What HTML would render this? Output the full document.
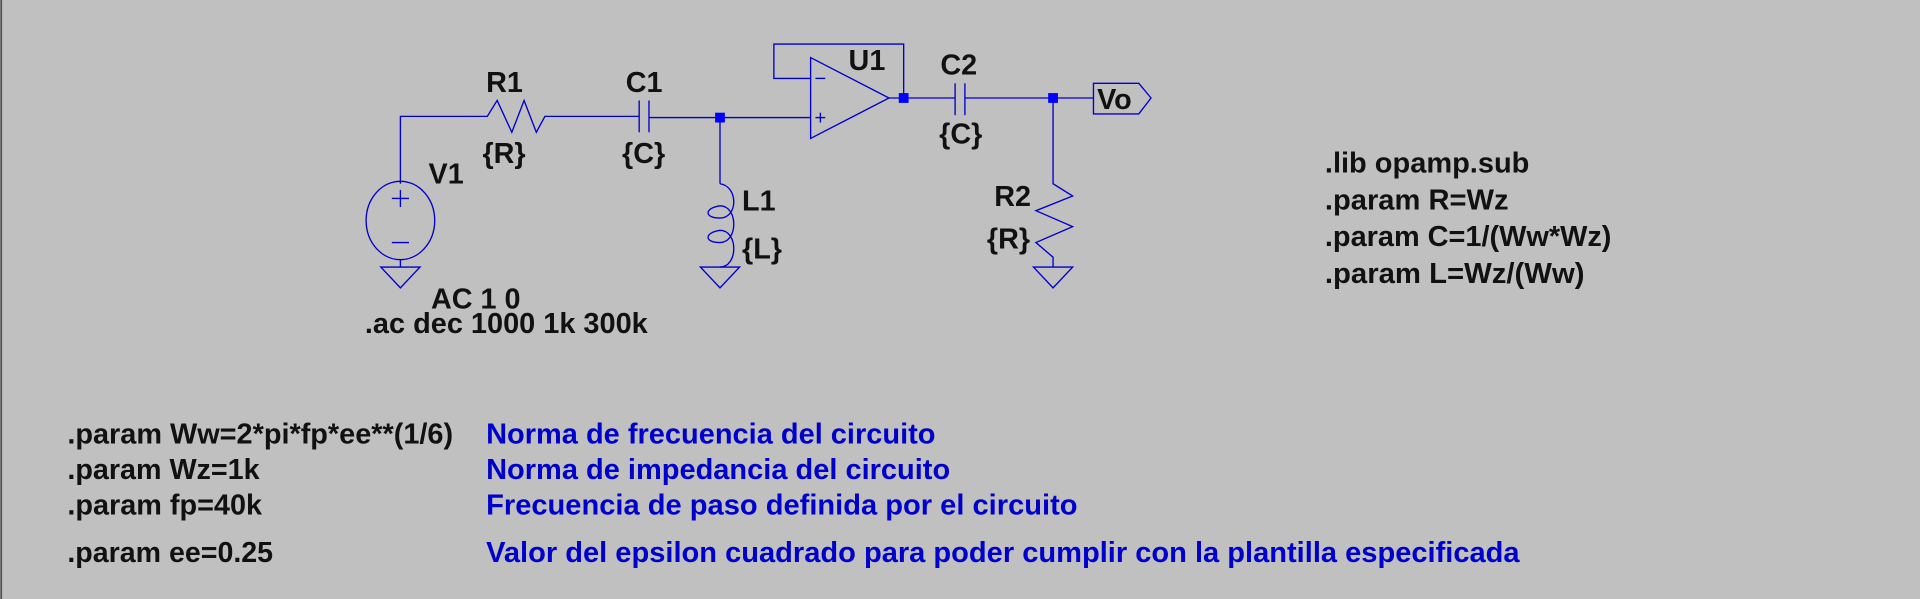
<!DOCTYPE html>
<html><head><meta charset="utf-8"><style>
html,body{margin:0;padding:0;background:#c0c0c0;width:1920px;height:599px;overflow:hidden}
svg{display:block}
text{font-family:"Liberation Sans",Arial,sans-serif;font-weight:bold;fill:#111}
.b{fill:#0000cc}
</style></head><body>
<svg width="1920" height="599" viewBox="0 0 1568 489" preserveAspectRatio="none">
<rect x="0" y="0" width="1568" height="489" fill="#c0c0c0"/>
<line x1="1" y1="0" x2="1" y2="489" stroke="#555" stroke-width="1.5"/>
<g stroke="#0000cc" stroke-width="1.1" fill="none">
<polyline points="327,150 327,95 383,95"/>
<ellipse cx="327" cy="180" rx="28" ry="32"/>
<line x1="320" y1="162" x2="334" y2="162"/><line x1="327" y1="155" x2="327" y2="169"/>
<line x1="320" y1="198" x2="334" y2="198"/>
<line x1="327" y1="212" x2="327" y2="218"/>
<polygon points="311,218 343,218 327,235"/>
<polyline points="383,95 398,95 406,82 418,108 428,82 438,108 445,95 522,95"/>
<line x1="522" y1="82" x2="522" y2="108"/><line x1="530" y1="82" x2="530" y2="108"/>
<line x1="530" y1="96" x2="662" y2="96"/>
<polyline points="588,96 588,150"/>
<path d="M588,150 C603,152 603,178 588,178 C575,178 575,170 588,168 C603,168 603,198 588,198 C575,198 575,190 588,188 C603,188 603,218 588,218"/>
<polygon points="572,218 604,218 588,235"/>
<polygon points="662,47 662,113 726,80"/>
<line x1="666" y1="64" x2="674" y2="64"/>
<line x1="666" y1="96" x2="674" y2="96"/><line x1="670" y1="92" x2="670" y2="100"/>
<polyline points="662,64 632,64 632,36 738,36 738,80"/>
<line x1="726" y1="80" x2="780" y2="80"/>
<line x1="780" y1="68" x2="780" y2="94"/><line x1="788" y1="68" x2="788" y2="94"/>
<line x1="788" y1="80" x2="893" y2="80"/>
<polyline points="860,80 860,150 876,160 846,172 876,185 846,198 860,210 860,218"/>
<polygon points="844,218 876,218 860,235"/>
<polygon points="893,68 930,68 940,80 930,93 893,93"/>
</g>
<g fill="#0000ff">
<rect x="584" y="92" width="8" height="8"/>
<rect x="734" y="76" width="8" height="8"/>
<rect x="856" y="76" width="8" height="8"/>
</g>
<g font-size="23.5">
<text x="397" y="75">R1</text>
<text x="394" y="133">{R}</text>
<text x="511" y="75">C1</text>
<text x="508" y="133">{C}</text>
<text x="693" y="57">U1</text>
<text x="768" y="61">C2</text>
<text x="767" y="117">{C}</text>
<text x="350" y="150">V1</text>
<text x="606" y="172">L1</text>
<text x="606" y="211">{L}</text>
<text x="812" y="168">R2</text>
<text x="806" y="203">{R}</text>
<text x="896" y="89">Vo</text>
<text x="352" y="252">AC 1 0</text>
<text x="298" y="272" textLength="231" lengthAdjust="spacingAndGlyphs">.ac dec 1000 1k 300k</text>
<text x="1082" y="141" textLength="167" lengthAdjust="spacingAndGlyphs">.lib opamp.sub</text>
<text x="1082" y="171" textLength="150" lengthAdjust="spacingAndGlyphs">.param R=Wz</text>
<text x="1082" y="201" textLength="234" lengthAdjust="spacingAndGlyphs">.param C=1/(Ww*Wz)</text>
<text x="1082" y="231" textLength="212" lengthAdjust="spacingAndGlyphs">.param L=Wz/(Ww)</text>
<text x="55" y="362" textLength="315" lengthAdjust="spacingAndGlyphs">.param Ww=2*pi*fp*ee**(1/6)</text>
<text x="55" y="391" textLength="157" lengthAdjust="spacingAndGlyphs">.param Wz=1k</text>
<text x="55" y="420" textLength="159" lengthAdjust="spacingAndGlyphs">.param fp=40k</text>
<text x="55" y="459" textLength="168" lengthAdjust="spacingAndGlyphs">.param ee=0.25</text>
<text class="b" x="397" y="362" textLength="367" lengthAdjust="spacingAndGlyphs">Norma de frecuencia del circuito</text>
<text class="b" x="397" y="391" textLength="379" lengthAdjust="spacingAndGlyphs">Norma de impedancia del circuito</text>
<text class="b" x="397" y="420" textLength="483" lengthAdjust="spacingAndGlyphs">Frecuencia de paso definida por el circuito</text>
<text class="b" x="397" y="459" textLength="844" lengthAdjust="spacingAndGlyphs">Valor del epsilon cuadrado para poder cumplir con la plantilla especificada</text>
</g>
</svg>
</body></html>
